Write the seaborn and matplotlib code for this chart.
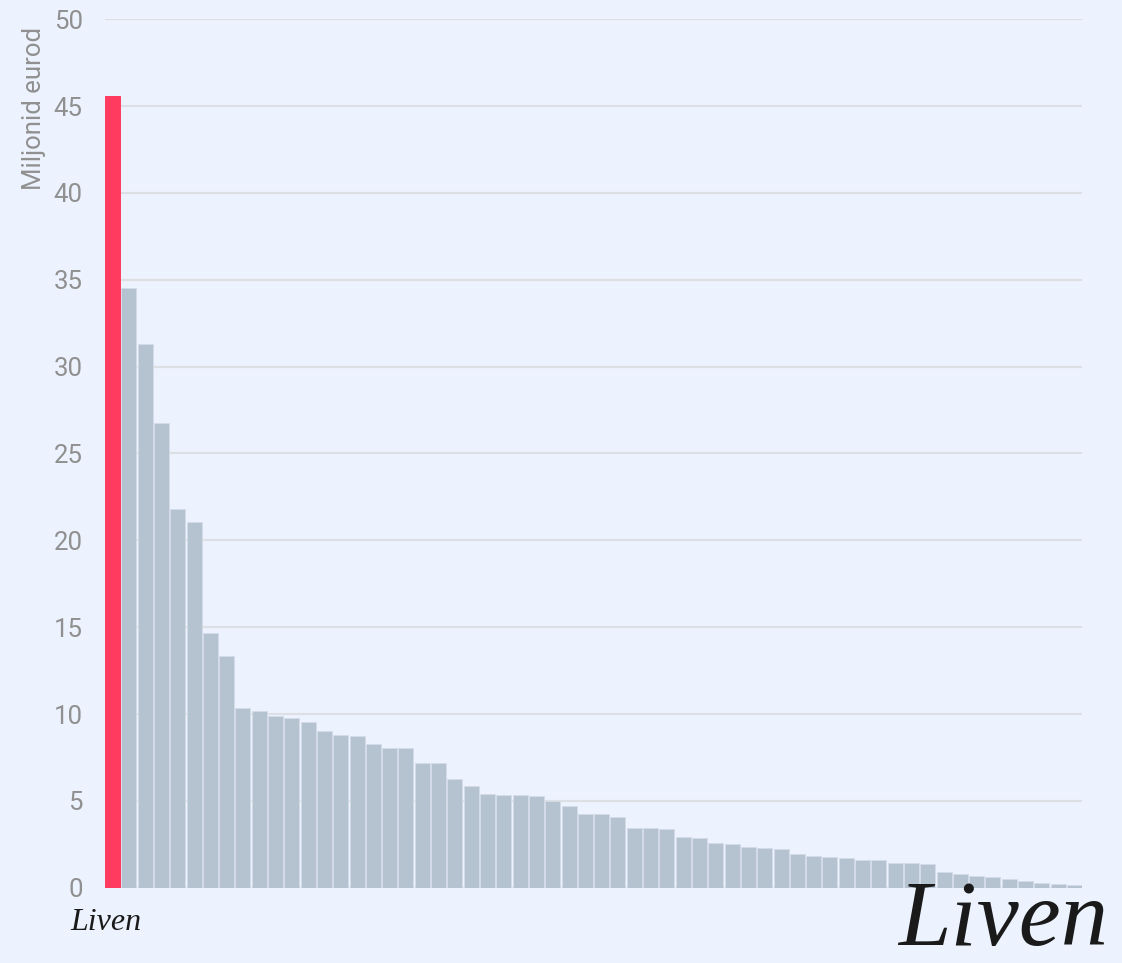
import matplotlib
matplotlib.use("Agg")
import matplotlib.pyplot as plt
import seaborn as sns
import pandas as pd

# ---- data ----
ranks = [str(i) for i in range(1, 61)]
values = [45.6, 34.55, 31.28, 26.75, 21.83, 21.04, 14.69, 13.33, 10.32, 10.18,
          9.90, 9.78, 9.53, 9.03, 8.77, 8.73, 8.25, 8.04, 8.02, 7.18,
          7.16, 6.24, 5.84, 5.40, 5.34, 5.32, 5.26, 4.97, 4.73, 4.27,
          4.25, 4.09, 3.46, 3.44, 3.40, 2.94, 2.87, 2.58, 2.52, 2.34,
          2.29, 2.20, 1.96, 1.85, 1.76, 1.69, 1.57, 1.57, 1.45, 1.40,
          1.35, 0.88, 0.77, 0.65, 0.61, 0.48, 0.40, 0.29, 0.23, 0.17]
highlight = ["yes"] + ["no"] * 59
y_ticks = [0, 5, 10, 15, 20, 25, 30, 35, 40, 45, 50]
y_label = "Miljonid eurod"
logo_text = "Liven"

df = pd.DataFrame({"rank": ranks, "value": values, "highlight": highlight})

BG = "#EDF3FE"
GREY_TXT = "#909090"
sns.set_theme(style="white")
plt.rcParams["font.family"] = ["Roboto", "DejaVu Sans"]

fig = plt.figure(figsize=(11.22, 9.63), dpi=100, facecolor=BG)
ax = fig.add_axes([105 / 1122, 1 - 887.7 / 963, (1082 - 105) / 1122, (887.7 - 19.3) / 963])
ax.set_facecolor(BG)

sns.barplot(data=df, x="rank", y="value", hue="highlight",
            palette={"yes": "#FF3B5F", "no": "#B5C3D1"}, saturation=1,
            dodge=False, legend=False, width=0.92, ax=ax,
            edgecolor="#D3DCE7", linewidth=0.7)
for p in ax.patches:
    if abs(p.get_height() - values[0]) < 1e-6:
        p.set_edgecolor("#FF3B5F")

ax.set_xlim(-0.46, len(values) - 0.54)
ax.set_ylim(0, 50)
ax.set_yticks(y_ticks)
ax.set_yticklabels([str(t) for t in y_ticks])
ax.set_xticks([])
ax.set_xlabel("")
ax.set_ylabel("")
ax.grid(axis="y", color="#DCDFE4", linewidth=1.6)
ax.set_axisbelow(True)
for s in ax.spines.values():
    s.set_visible(False)
ax.tick_params(axis="y", length=0, pad=16, labelsize=18.5, labelcolor=GREY_TXT)

fig.text(34 / 1122, 1 - 27 / 963, y_label, rotation=90, ha="center", va="top",
         fontsize=18.5, color=GREY_TXT)

# logos as text
fig.text(70 / 1122, 1 - 930 / 963, logo_text, ha="left", va="baseline",
         fontsize=23, color="#1A1A1A", family=["Liberation Serif"], style="italic")
fig.text(1108 / 1122, 1 - 945 / 963, logo_text, ha="right", va="baseline",
         fontsize=68, color="#1A1A1A", family=["Liberation Serif"], style="italic")

fig.savefig("out.png", dpi=100, facecolor=BG)
